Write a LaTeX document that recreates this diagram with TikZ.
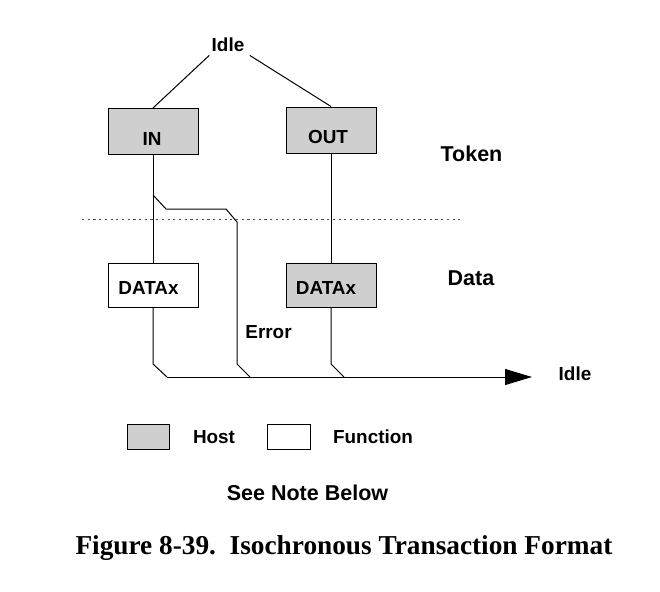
\documentclass[tikz,border=0pt]{standalone}
\usepackage{fontspec}
\setmainfont{Liberation Sans}
\newfontfamily\capfont{Liberation Serif}
\usetikzlibrary{arrows.meta}
\begin{document}
\begin{tikzpicture}[x=1pt,y=-1pt,
  line width=1pt,
  lbl/.style={inner sep=0pt,font=\fontsize{18.9}{22}\selectfont\bfseries},
  biglbl/.style={inner sep=0pt,font=\fontsize{21.5}{25}\selectfont\bfseries},
  hostbox/.style={draw=black,fill=black!19,minimum width=90pt,minimum height=46pt,inner sep=0pt},
  funcbox/.style={draw=black,fill=white,minimum width=90pt,minimum height=44pt,inner sep=0pt},
  wire/.style={draw=black,line width=1pt},
  sep/.style={draw=black!70,line width=1pt,dash pattern=on 2.2pt off 3.5pt}]
\useasboundingbox (0,0) rectangle (660,591);
% boxes
\node[hostbox] (in) at (153.5,131.5) {};
\node[hostbox] (out) at (331,130) {};
\node[funcbox] (datal) at (153,285) {};
\node[hostbox,minimum height=44pt] (datar) at (331,285) {};
% box texts
\node[lbl] at (152,139) {IN};
\node[lbl] at (328,137) {OUT};
\node[lbl] at (148.5,288) {DATAx};
\node[lbl] at (326,288) {DATAx};
% labels
\node[lbl] (idle1) at (228,45) {Idle};
\node[lbl] (idle2) at (575,374) {Idle};
\node[lbl] (err) at (268.5,332) {Error};
\node[biglbl] (tok) at (471.5,154) {Token};
\node[biglbl] (dat) at (471,278) {Data};
% top connectors
\draw[wire] ([xshift=-2pt,yshift=-3pt]idle1.south west) -- ([xshift=-0.5pt]in.north);
\draw[wire] ([xshift=5pt,yshift=-3pt]idle1.south east) -- (out.north);
% separator
\coordinate (s1) at (82,219);
\coordinate (s2) at (461,219);
\draw[sep] (s1) -- (s2);
% vertical connectors
\draw[wire] ([xshift=-0.5pt]in.south) -- (datal.north);
\draw[wire] (out.south) -- (datar.north);
% error branch
\coordinate (b1) at (153,195);
\coordinate (b2) at (166,209);
\coordinate (b3) at (226,209);
\coordinate (b4) at (237,222);
\coordinate (b5) at (237,364);
\coordinate (b6) at (250,377);
\draw[wire] (b1) -- (b2) -- (b3) -- (b4) -- (b5) -- (b6);
% data outputs
\coordinate (l1) at (153,364);
\coordinate (l2) at (167,377);
\coordinate (r1) at (331,364);
\coordinate (r2) at (344,377);
\draw[wire] (datal.south) -- (l1) -- (l2);
\draw[wire] (datar.south) -- (r1) -- (r2);
% bottom line with arrow
\coordinate (tip) at (532,377);
\draw[wire,-{Triangle[length=27pt,width=16pt]}] (l2) -- (tip);
% legend
\node[draw=black,fill=black!19,minimum width=42pt,minimum height=25pt,inner sep=0pt] (lh) at (148,436.5) {};
\node[lbl] (lht) at (214,437) {Host};
\node[draw=black,fill=white,minimum width=43pt,minimum height=25pt,inner sep=0pt] (lf) at (288.5,436.5) {};
\node[lbl] (lft) at (373,437) {Function};
\node[biglbl] (note) at (307.5,493) {See Note Below};
% caption
\node[anchor=base west,inner sep=0pt,font=\fontsize{27.3}{32}\selectfont\capfont\bfseries] (cap) at (75,554) {Figure 8-39.\hspace{0.5em}Isochronous Transaction Format};
\end{tikzpicture}
\end{document}
